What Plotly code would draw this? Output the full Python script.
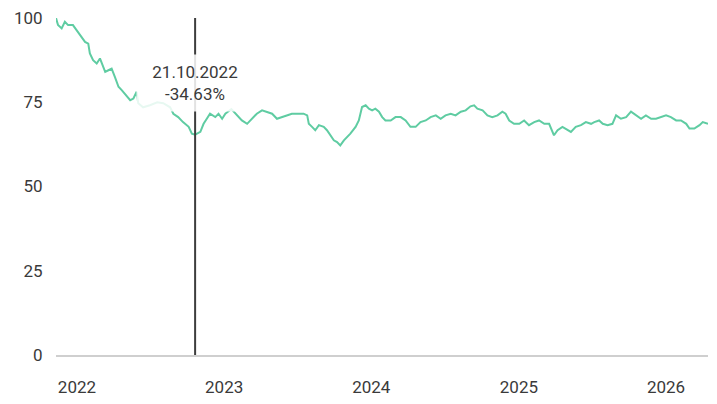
import plotly.graph_objects as go

dates = [
    "2021-11-10", "2021-11-15", "2021-11-24", "2021-12-02", "2021-12-10", "2021-12-22", "2021-12-31",
    "2022-01-13", "2022-01-21", "2022-01-29", "2022-02-02", "2022-02-10", "2022-02-19", "2022-02-27",
    "2022-03-06", "2022-03-12", "2022-03-20", "2022-03-28", "2022-04-05", "2022-04-14", "2022-04-22",
    "2022-05-04", "2022-05-13", "2022-05-21", "2022-05-29", "2022-06-02", "2022-06-14", "2022-07-01",
    "2022-07-19", "2022-08-03", "2022-08-20", "2022-08-28", "2022-09-09", "2022-09-21", "2022-10-05",
    "2022-10-13", "2022-10-21", "2022-11-03", "2022-11-11", "2022-11-19", "2022-11-27", "2022-12-10",
    "2022-12-18", "2022-12-27", "2023-01-04", "2023-01-19", "2023-02-06", "2023-02-14", "2023-02-27",
    "2023-03-11", "2023-03-23", "2023-04-05", "2023-04-17", "2023-04-30", "2023-05-12", "2023-05-25",
    "2023-06-06", "2023-06-18", "2023-07-01", "2023-07-09", "2023-07-17", "2023-07-26", "2023-07-30",
    "2023-08-07", "2023-08-15", "2023-08-24", "2023-09-05", "2023-09-13", "2023-09-22", "2023-09-30",
    "2023-10-08", "2023-10-16", "2023-10-25", "2023-11-02", "2023-11-10", "2023-11-23", "2023-12-01",
    "2023-12-09", "2023-12-18", "2023-12-26", "2024-01-03", "2024-01-11", "2024-01-20", "2024-01-28",
    "2024-02-05", "2024-02-18", "2024-03-01", "2024-03-14", "2024-03-26", "2024-04-07", "2024-04-20",
    "2024-05-02", "2024-05-15", "2024-05-27", "2024-06-09", "2024-06-21", "2024-07-03", "2024-07-16",
    "2024-07-28", "2024-08-10", "2024-08-22", "2024-09-03", "2024-09-12", "2024-09-20", "2024-10-03",
    "2024-10-15", "2024-10-27", "2024-11-09", "2024-11-21", "2024-11-29", "2024-12-08", "2024-12-20",
    "2025-01-02", "2025-01-14", "2025-01-26", "2025-02-08", "2025-02-20", "2025-03-05", "2025-03-17",
    "2025-03-29", "2025-04-07", "2025-04-19", "2025-05-02", "2025-05-10", "2025-05-22", "2025-06-04",
    "2025-06-16", "2025-06-29", "2025-07-07", "2025-07-19", "2025-07-28", "2025-08-09", "2025-08-21",
    "2025-08-30", "2025-09-11", "2025-09-24", "2025-10-06", "2025-10-18", "2025-10-31", "2025-11-12",
    "2025-11-25", "2025-12-07", "2025-12-20", "2026-01-01", "2026-01-13", "2026-01-26", "2026-02-07",
    "2026-02-20", "2026-02-28", "2026-03-12", "2026-03-25", "2026-04-02", "2026-04-15",
]

values = [
    100.0, 97.9, 96.9, 98.9, 97.9, 97.9, 96.4,
    94.4, 92.9, 92.4, 89.5, 87.5, 86.5, 88.0,
    86.0, 84.0, 84.5, 85.0, 82.5, 79.6, 78.6,
    77.0, 75.6, 76.1, 78.1, 74.7, 73.5, 74.1,
    75.0, 74.7, 73.5, 71.6, 70.6, 69.1, 67.7,
    65.7, 65.37, 66.2, 68.6, 70.1, 71.6, 70.6,
    71.6, 70.1, 71.6, 73.0, 70.5, 69.6, 68.6,
    70.1, 71.6, 72.6, 72.2, 71.6, 70.1, 70.6,
    71.1, 71.6, 71.6, 71.6, 71.6, 71.1, 68.6,
    67.7, 66.7, 68.2, 67.7, 66.7, 65.2, 63.7,
    63.2, 62.2, 63.7, 64.7, 65.7, 67.7, 69.6,
    73.6, 74.1, 73.1, 72.6, 73.1, 72.2, 70.6,
    69.6, 69.6, 70.6, 70.6, 69.6, 67.7, 67.7,
    69.1, 69.6, 70.6, 71.1, 70.1, 71.1, 71.6,
    71.1, 72.2, 72.6, 73.8, 74.1, 73.1, 72.6,
    71.1, 70.6, 71.1, 72.2, 71.6, 69.6, 68.6,
    68.6, 69.6, 68.2, 69.1, 69.6, 68.6, 68.6,
    65.2, 66.7, 67.7, 66.7, 66.2, 67.7, 68.2,
    69.1, 68.6, 69.1, 69.6, 68.6, 68.2, 68.6,
    71.1, 70.1, 70.6, 72.2, 71.1, 70.1, 71.1,
    70.1, 70.1, 70.6, 71.1, 70.6, 69.6, 69.6,
    68.6, 67.2, 67.2, 68.2, 69.1, 68.6,
]

marker_date = "2022-10-21"
marker_label = "21.10.2022"
marker_change = "-34.63%"

x_tickvals = ["2022-01-01", "2023-01-01", "2024-01-01", "2025-01-01", "2026-01-01"]
x_ticktext = ["2022", "2023", "2024", "2025", "2026"]
y_tickvals = [0, 25, 50, 75, 100]

font_family = "Roboto, 'Open Sans', sans-serif"
text_color = "#3a3a3a"

fig = go.Figure()
fig.add_trace(go.Scatter(
    x=dates, y=values, mode="lines",
    line=dict(color="#5fcca2", width=2),
    hoverinfo="skip", showlegend=False,
))

fig.add_shape(
    type="line", xref="x", yref="paper",
    x0=marker_date, x1=marker_date, y0=0, y1=1,
    line=dict(color="#3d3d3d", width=2), layer="above",
)

fig.add_annotation(
    x=marker_date, xref="x", y=0.807, yref="paper",
    xanchor="center", yanchor="middle",
    text=marker_label + "<br>" + marker_change,
    showarrow=False, align="center",
    font=dict(family=font_family, size=17, color=text_color),
    bgcolor="rgba(255,255,255,0.85)", borderpad=7, width=102,
)

fig.update_layout(
    width=709, height=396,
    margin=dict(l=48, r=9, t=10, b=49),
    paper_bgcolor="white", plot_bgcolor="white",
    font=dict(family=font_family, size=17, color=text_color),
    xaxis=dict(
        range=[dates[0], dates[-1]],
        tickvals=x_tickvals, ticktext=x_ticktext,
        showgrid=False, zeroline=False,
        showline=True, linecolor="#cfcfcf", linewidth=2,
        ticks="outside", ticklen=16, tickcolor="rgba(0,0,0,0)",
        tickfont=dict(size=17, color=text_color),
        ticklabeloverflow="allow", automargin=False,
    ),
    yaxis=dict(
        range=[0, 100],
        tickvals=y_tickvals,
        showgrid=False, zeroline=False, showline=False,
        ticks="outside", ticklen=9, tickcolor="rgba(0,0,0,0)",
        tickfont=dict(size=17, color=text_color),
        ticklabeloverflow="allow", automargin=False,
    ),
)

fig.write_html("out.html")
